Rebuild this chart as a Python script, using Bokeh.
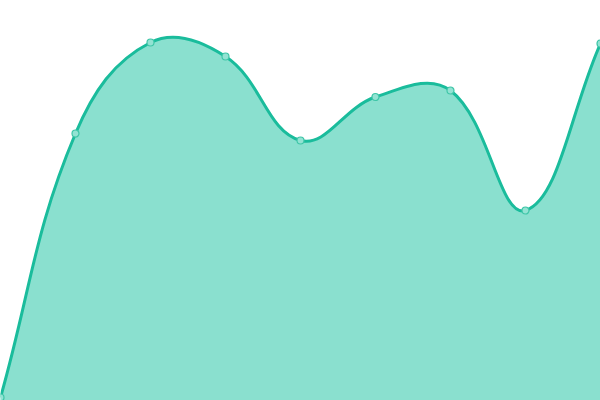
from bokeh.plotting import figure
from bokeh.models import Range1d
from bokeh.embed import file_html
from bokeh.resources import INLINE
import math

# ---- data ----
x_idx = [0, 1, 2, 3, 4, 5, 6, 7, 8]
values = [3, 267, 358, 344, 260, 303.5, 310, 190, 357]

LINE = "#1abc9c"
FILL = "#8ae0cf"

W, H = 600, 400
XMAX, YMAX = 8, 400
sx = W / XMAX
sy = H / YMAX


def control_points(xs, ys, t=0.4):
    # Chart.js-like spline control points, computed in screen space
    px = [x * sx for x in xs]
    py = [y * sy for y in ys]
    n = len(px)
    cps = []
    for i in range(n):
        pi = max(i - 1, 0)
        ni = min(i + 1, n - 1)
        d01 = math.hypot(px[i] - px[pi], py[i] - py[pi])
        d12 = math.hypot(px[ni] - px[i], py[ni] - py[i])
        tot = d01 + d12 or 1
        fa = t * d01 / tot
        fb = t * d12 / tot
        dx = px[ni] - px[pi]
        dy = py[ni] - py[pi]
        prev_cp = (px[i] - fa * dx, min(max(py[i] - fa * dy, 0), H))
        next_cp = (px[i] + fb * dx, min(max(py[i] + fb * dy, 0), H))
        cps.append((prev_cp, next_cp))
    return px, py, cps


px, py, cps = control_points(x_idx, values)

seg = dict(x0=[], y0=[], x1=[], y1=[], cx0=[], cy0=[], cx1=[], cy1=[])
fx, fy = [], []
for i in range(len(px) - 1):
    p0 = (px[i], py[i])
    c0 = cps[i][1]
    c1 = cps[i + 1][0]
    p1 = (px[i + 1], py[i + 1])
    seg["x0"].append(p0[0] / sx); seg["y0"].append(p0[1] / sy)
    seg["x1"].append(p1[0] / sx); seg["y1"].append(p1[1] / sy)
    seg["cx0"].append(c0[0] / sx); seg["cy0"].append(c0[1] / sy)
    seg["cx1"].append(c1[0] / sx); seg["cy1"].append(c1[1] / sy)
    steps = 40
    for k in range(steps + (1 if i == len(px) - 2 else 0)):
        t = k / steps
        a = (1 - t) ** 3; b = 3 * (1 - t) ** 2 * t; c = 3 * (1 - t) * t ** 2; d = t ** 3
        fx.append((a * p0[0] + b * c0[0] + c * c1[0] + d * p1[0]) / sx)
        fy.append((a * p0[1] + b * c0[1] + c * c1[1] + d * p1[1]) / sy)

p = figure(width=W, height=H, output_backend="svg", toolbar_location=None,
           x_range=Range1d(0, XMAX), y_range=Range1d(0, YMAX),
           min_border=0, min_border_left=0, min_border_right=0,
           min_border_top=0, min_border_bottom=0)
p.axis.visible = False
p.grid.visible = False
p.outline_line_color = None
p.background_fill_color = "white"
p.border_fill_color = "white"

p.varea(x=fx, y1=[0] * len(fx), y2=fy, fill_color=FILL, fill_alpha=1)
p.bezier(x0=seg["x0"], y0=seg["y0"], x1=seg["x1"], y1=seg["y1"],
         cx0=seg["cx0"], cy0=seg["cy0"], cx1=seg["cx1"], cy1=seg["cy1"],
         line_color=LINE, line_width=3)
p.scatter(x_idx, values, size=7, fill_color="#93e3d3", line_color="#3fc6a8", line_width=1.2)

open("out.html", "w").write(file_html(p, INLINE))
